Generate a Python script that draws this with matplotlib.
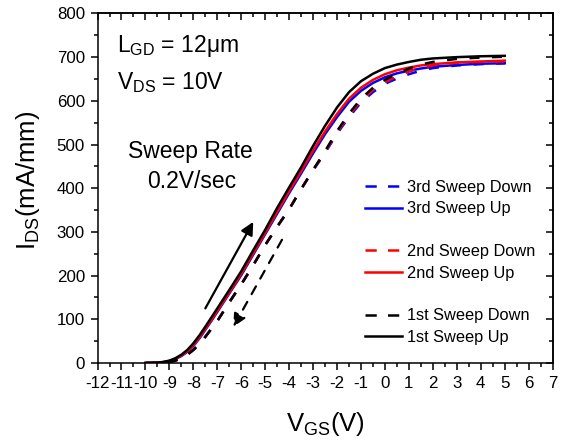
import matplotlib
matplotlib.use("Agg")
import matplotlib.pyplot as plt
from matplotlib.lines import Line2D
from matplotlib.ticker import MultipleLocator

plt.rcParams['font.family'] = 'Liberation Sans'
plt.rcParams['mathtext.fontset'] = 'custom'
plt.rcParams['mathtext.rm'] = 'Liberation Sans'
plt.rcParams['mathtext.it'] = 'Liberation Sans:italic'
plt.rcParams['axes.unicode_minus'] = False

# gate voltage grid shared by all sweeps
vgs = [-10, -9.75, -9.5, -9.25, -9, -8.75, -8.5, -8.25, -8, -7.75, -7.5, -7.25,
       -7, -6.5, -6, -5.5, -5, -4.5, -4, -3.5, -3, -2.5, -2, -1.5, -1, -0.5,
       0, 0.5, 1, 1.5, 2, 3, 4, 5]

# up sweeps (solid)
ids_1st_up = [0, 0.3, 1, 2.5, 5.5, 11, 19, 30, 45, 63, 83, 104,
              125, 167, 210, 258, 305, 355, 402, 448, 497, 543, 585, 620, 645, 662,
              675, 683, 689, 694, 697, 700, 702, 703]
ids_2nd_up = [0, 0.3, 0.8, 2, 4.5, 9.5, 17, 27, 41, 58, 78, 98,
              119, 161, 204, 251, 298, 346, 393, 439, 486, 530, 570, 605, 630, 648,
              661, 670, 676, 681, 684, 688, 690, 692]
ids_3rd_up = [0, 0.3, 0.8, 2, 4.3, 9, 16, 25.5, 39, 56, 76, 96,
              117, 159, 201, 248, 295, 342, 389, 434, 480, 524, 563, 598, 623, 641,
              654, 663, 669, 674, 678, 682, 685, 686]

# down sweeps (dashed)
ids_1st_down = [0, 0, 0.3, 1, 2.5, 5.5, 11, 19, 30, 43, 60, 78,
                96, 139, 180, 224, 270, 312, 352, 398, 442, 485, 531, 571, 605, 630,
                648, 662, 674, 683, 689, 696, 699, 701]
ids_2nd_down = [0, 0, 0.3, 1, 2.5, 5.5, 11, 19, 30, 43, 60, 78,
                96, 139, 180, 224, 270, 312, 352, 398, 442, 483, 528, 567, 600, 625,
                643, 656, 667, 675, 681, 687, 689, 690]
ids_3rd_down = [0, 0, 0.3, 1, 2.5, 5.5, 11, 19, 30, 43, 60, 78,
                96, 139, 180, 224, 270, 312, 352, 398, 441, 481, 525, 563, 596, 620,
                639, 651, 661, 669, 675, 681, 684, 686]

# sweep-direction arrows (start, end) in data units
up_arrow = [(-7.5, 125), (-5.5, 323)]
down_arrow = [(-4.3, 282), (-6.33, 83)]

fig = plt.figure(figsize=(5.68, 4.48), dpi=100)
ax = fig.add_axes([0.1717, 0.1897, 0.8013, 0.7803])

lw = 1.8
dash = (0, (4, 5))
ax.plot(vgs, ids_3rd_down, color='#0000ff', lw=lw, ls=dash)
ax.plot(vgs, ids_3rd_up, color='#0000ff', lw=lw)
ax.plot(vgs, ids_2nd_down, color='#ff0000', lw=lw, ls=dash)
ax.plot(vgs, ids_2nd_up, color='#ff0000', lw=lw)
ax.plot(vgs, ids_1st_down, color='black', lw=lw, ls=dash)
ax.plot(vgs, ids_1st_up, color='black', lw=lw)

ax.annotate('', xy=up_arrow[1], xytext=up_arrow[0],
            arrowprops=dict(arrowstyle='-|>', color='black', lw=1.6,
                            mutation_scale=19, shrinkA=0, shrinkB=0))
ax.annotate('', xy=down_arrow[1], xytext=down_arrow[0],
            arrowprops=dict(arrowstyle='-|>', color='black', lw=1.6,
                            linestyle=(0, (4, 4)), mutation_scale=19,
                            shrinkA=0, shrinkB=0))

ax.set_xlim(-12, 7)
ax.set_ylim(0, 800)
ax.xaxis.set_major_locator(MultipleLocator(1))
ax.xaxis.set_minor_locator(MultipleLocator(0.5))
ax.yaxis.set_major_locator(MultipleLocator(100))
ax.yaxis.set_minor_locator(MultipleLocator(50))
ax.tick_params(which='both', labelsize=12.2, width=1.1, direction='out',
               top=False, right=False)
ax.tick_params(which='major', length=5, pad=4)
ax.tick_params(which='minor', length=3)

# mirrored ticks pointing inward on top and right
ax2 = ax.secondary_xaxis('top')
ax2.xaxis.set_major_locator(MultipleLocator(1))
ax2.xaxis.set_minor_locator(MultipleLocator(0.5))
ax2.tick_params(which='both', direction='in', labeltop=False, width=1.1)
ax2.tick_params(which='major', length=5)
ax2.tick_params(which='minor', length=3)
ay2 = ax.secondary_yaxis('right')
ay2.yaxis.set_major_locator(MultipleLocator(100))
ay2.yaxis.set_minor_locator(MultipleLocator(50))
ay2.tick_params(which='both', direction='in', labelright=False, width=1.1)
ay2.tick_params(which='major', length=5)
ay2.tick_params(which='minor', length=3)
for a in [ax, ax2, ay2]:
    for sp in a.spines.values():
        sp.set_linewidth(1.1)

fig.text(28 / 568, 1 - 180 / 448, r'$\mathregular{I_{DS}}$(mA/mm)',
         rotation=90, ha='center', va='center', fontsize=18.5)
fig.text(325 / 568, 1 - 424 / 448, r'$\mathregular{V_{GS}}$(V)',
         ha='center', va='center', fontsize=18.5)

fig.text(117 / 568, 1 - 52 / 448, r'$\mathregular{L_{GD}}$ = 12μm',
         ha='left', va='baseline', fontsize=16.5)
fig.text(117 / 568, 1 - 89 / 448, r'$\mathregular{V_{DS}}$ = 10V',
         ha='left', va='baseline', fontsize=16.5)
fig.text(190 / 568, 1 - 158 / 448, 'Sweep Rate',
         ha='center', va='baseline', fontsize=16.5)
fig.text(192 / 568, 1 - 188 / 448, '0.2V/sec',
         ha='center', va='baseline', fontsize=16.5)

blank = Line2D([], [], linestyle='none')
handles = [
    Line2D([], [], color='#0000ff', lw=lw, ls=(0, (4.5, 4.5))),
    Line2D([], [], color='#0000ff', lw=lw),
    blank,
    Line2D([], [], color='#ff0000', lw=lw, ls=(0, (4.5, 4.5))),
    Line2D([], [], color='#ff0000', lw=lw),
    blank,
    Line2D([], [], color='black', lw=lw, ls=(0, (4.5, 4.5))),
    Line2D([], [], color='black', lw=lw),
]
labels = ['3rd Sweep Down', '3rd Sweep Up', '', '2nd Sweep Down',
          '2nd Sweep Up', '', '1st Sweep Down', '1st Sweep Up']
ax.legend(handles, labels, loc='upper left', frameon=False,
          bbox_to_anchor=(365 / 568, 1 - 180 / 448),
          bbox_transform=fig.transFigure, borderaxespad=0, borderpad=0,
          fontsize=11.8, handlelength=2.25, handletextpad=0.3,
          labelspacing=0.39)

fig.savefig('out.png', dpi=100)
